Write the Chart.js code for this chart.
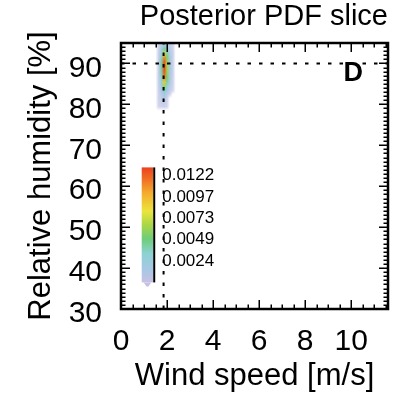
<!DOCTYPE html>
<html>
<head>
<meta charset="utf-8">
<script src="https://cdn.jsdelivr.net/npm/chart.js@4/dist/chart.umd.min.js"></script>
<style>
  html, body { margin: 0; padding: 0; background: #fff; }
  #wrap { width: 416px; height: 395px; position: relative; }
</style>
</head>
<body>
<div id="wrap"><canvas id="c" width="416" height="395"></canvas></div>
<script>
// ---- data ----
const xLimits = [0, 11.6];
const yLimits = [30, 95];
const xTickStep = 2;
const yTickStep = 10;
const trueWind = 1.85;
const trueHumidity = 90;
const panelLabel = 'D';

// PDF grid: column centres (wind speed, m/s) and row centres (RH, %)
const pdfWind = [1.5, 1.625, 1.75, 1.875, 2.0, 2.125, 2.25, 2.375];
const pdfHumidity = [94.5, 93.5, 92.5, 91.5, 90.5, 89.5, 88.5, 87.5, 86.5, 85.5, 84.5, 83.5, 82.5, 81.5, 80.5, 79.5, 78.5];
const pdfValues = [
  [0, 0.0004, 0.0010, 0.0025, 0.0015, 0.0008, 0.0004, 0],
  [0, 0.0005, 0.0015, 0.0045, 0.0025, 0.0010, 0.0005, 0],
  [0, 0.0006, 0.0025, 0.0075, 0.0040, 0.0012, 0.0006, 0],
  [0, 0.0006, 0.0035, 0.0110, 0.0055, 0.0014, 0.0006, 0],
  [0, 0.0007, 0.0040, 0.0125, 0.0062, 0.0015, 0.0006, 0],
  [0, 0.0007, 0.0042, 0.0130, 0.0065, 0.0015, 0.0006, 0],
  [0, 0.0007, 0.0040, 0.0128, 0.0062, 0.0015, 0.0006, 0],
  [0, 0.0007, 0.0038, 0.0122, 0.0058, 0.0014, 0.0006, 0],
  [0, 0.0007, 0.0034, 0.0112, 0.0052, 0.0013, 0.0005, 0],
  [0, 0.0006, 0.0028, 0.0090, 0.0042, 0.0012, 0.0005, 0],
  [0, 0.0006, 0.0020, 0.0062, 0.0030, 0.0010, 0.0004, 0],
  [0, 0.0005, 0.0015, 0.0035, 0.0018, 0.0008, 0.0003, 0],
  [0, 0.0005, 0.0011, 0.0020, 0.0010, 0.0004, 0, 0],
  [0, 0.0004, 0.0009, 0.0013, 0.0006, 0, 0, 0],
  [0, 0.0004, 0.0007, 0.0009, 0.0004, 0, 0, 0],
  [0, 0.0003, 0.0005, 0.0006, 0.0002, 0, 0, 0],
  [0, 0, 0, 0, 0, 0, 0, 0]
];
const pdfMax = 0.0131;
const colorbarTicks = [0.0122, 0.0097, 0.0073, 0.0049, 0.0024];
// colour bar placement in data units (wind, RH)
const colorbarWind = [0.9, 1.4];
const colorbarHumidity = [36.5, 64.6];

// colour map stops [fraction, r, g, b]
const cmapStops = [
  [0.00, 200, 192, 228],
  [0.12, 165, 200, 228],
  [0.25, 140, 210, 210],
  [0.38, 110, 205, 120],
  [0.50, 170, 215, 70],
  [0.62, 235, 228, 60],
  [0.78, 245, 170, 45],
  [0.90, 240, 110, 35],
  [1.00, 235, 65, 30]
];

function cmap(f) {
  f = Math.max(0, Math.min(1, f));
  for (let i = 1; i < cmapStops.length; i++) {
    const a = cmapStops[i - 1], b = cmapStops[i];
    if (f <= b[0]) {
      const t = (f - a[0]) / (b[0] - a[0]);
      return [0, 1, 2].map(k => Math.round(a[k + 1] + (b[k + 1] - a[k + 1]) * t));
    }
  }
  const l = cmapStops[cmapStops.length - 1];
  return [l[1], l[2], l[3]];
}

const FONT = "'Liberation Sans', Arial, Helvetica, sans-serif";

const heatmapPlugin = {
  id: 'heatmap',
  beforeDatasetsDraw(chart) {
    const {ctx, chartArea, scales: {x, y}} = chart;
    const nc = pdfWind.length, nr = pdfHumidity.length;
    const off = document.createElement('canvas');
    off.width = nc; off.height = nr;
    const octx = off.getContext('2d');
    const img = octx.createImageData(nc, nr);
    for (let r = 0; r < nr; r++) {
      for (let c = 0; c < nc; c++) {
        const v = pdfValues[r][c];
        const i = (r * nc + c) * 4;
        if (v > 0) {
          const col = cmap(v / pdfMax);
          img.data[i] = col[0]; img.data[i + 1] = col[1]; img.data[i + 2] = col[2];
          img.data[i + 3] = Math.round(255 * (0.6 + 0.4 * Math.min(1, v / 0.0015)));
        } else {
          img.data[i + 3] = 0;
        }
      }
    }
    octx.putImageData(img, 0, 0);
    const dx = pdfWind[1] - pdfWind[0];
    const dy = pdfHumidity[0] - pdfHumidity[1];
    const x0 = x.getPixelForValue(pdfWind[0] - dx / 2);
    const x1 = x.getPixelForValue(pdfWind[nc - 1] + dx / 2);
    const y0 = y.getPixelForValue(pdfHumidity[0] + dy / 2);
    const y1 = y.getPixelForValue(pdfHumidity[nr - 1] - dy / 2);
    ctx.save();
    ctx.beginPath();
    ctx.rect(chartArea.left, chartArea.top, chartArea.right - chartArea.left, chartArea.bottom - chartArea.top);
    ctx.clip();
    ctx.imageSmoothingEnabled = true;
    ctx.drawImage(off, x0, y0, x1 - x0, y1 - y0);
    ctx.restore();
  }
};

const framePlugin = {
  id: 'frame',
  afterDraw(chart) {
    const {ctx, chartArea: a, scales: {x, y}} = chart;
    ctx.save();
    ctx.strokeStyle = '#000';
    ctx.lineWidth = 1.5;
    ctx.beginPath();
    // x ticks (minor every 0.5, major every 2)
    for (let v = xLimits[0]; v <= xLimits[1] + 1e-9; v += 0.5) {
      const px = Math.round(x.getPixelForValue(v)) + 0.25;
      const major = Math.abs(v / xTickStep - Math.round(v / xTickStep)) < 1e-6;
      const len = major ? 9 : 4.5;
      ctx.moveTo(px, a.bottom); ctx.lineTo(px, a.bottom - len);
      ctx.moveTo(px, a.top); ctx.lineTo(px, a.top + len);
    }
    // y ticks (minor every 1, major every 10)
    for (let v = yLimits[0]; v <= yLimits[1] + 1e-9; v += 1) {
      const py = Math.round(y.getPixelForValue(v)) + 0.25;
      const major = (v % yTickStep) === 0;
      const len = major ? 9 : 4.5;
      ctx.moveTo(a.left, py); ctx.lineTo(a.left + len, py);
      ctx.moveTo(a.right, py); ctx.lineTo(a.right - len, py);
    }
    ctx.stroke();
    ctx.lineWidth = 2.5;
    ctx.strokeRect(a.left, a.top, a.right - a.left, a.bottom - a.top);

    // panel label
    ctx.fillStyle = '#000';
    ctx.font = 'bold 27px ' + FONT;
    ctx.textAlign = 'right';
    ctx.textBaseline = 'top';
    ctx.fillText(panelLabel, a.right - 25, a.top + 17);

    // colour bar
    const bx0 = x.getPixelForValue(colorbarWind[0]);
    const bx1 = x.getPixelForValue(colorbarWind[1]);
    const by0 = y.getPixelForValue(colorbarHumidity[1]);
    const by1 = y.getPixelForValue(colorbarHumidity[0]);
    const grad = ctx.createLinearGradient(0, by1, 0, by0);
    for (const s of cmapStops) grad.addColorStop(s[0], `rgb(${s[1]},${s[2]},${s[3]})`);
    ctx.fillStyle = grad;
    ctx.fillRect(bx0, by0, bx1 - bx0, by1 - by0);
    // small nub at bottom
    const c0 = cmap(0);
    ctx.fillStyle = `rgb(${c0[0]},${c0[1]},${c0[2]})`;
    ctx.beginPath();
    ctx.moveTo(bx0 + 2, by1);
    ctx.lineTo(bx1 - 2, by1);
    ctx.lineTo((bx0 + bx1) / 2 + 1, by1 + 4);
    ctx.lineTo((bx0 + bx1) / 2 - 1, by1 + 4);
    ctx.closePath();
    ctx.fill();
    ctx.strokeStyle = '#000';
    ctx.lineWidth = 2;
    ctx.beginPath();
    ctx.moveTo(bx1 + 1, by0); ctx.lineTo(bx1 + 1, by1);
    ctx.stroke();

    ctx.fillStyle = '#000';
    ctx.font = '17px ' + FONT;
    ctx.textAlign = 'left';
    ctx.textBaseline = 'middle';
    for (const t of colorbarTicks) {
      const ty = by1 + (by0 - by1) * (t / pdfMax);
      ctx.fillText(t.toFixed(4), bx1 + 9, ty);
    }
    ctx.restore();
  }
};

new Chart(document.getElementById('c'), {
  type: 'scatter',
  data: {
    datasets: [
      {
        type: 'line',
        data: [{x: trueWind, y: yLimits[0]}, {x: trueWind, y: yLimits[1]}],
        borderColor: '#000', borderWidth: 2, borderDash: [3.5, 8], pointRadius: 0, fill: false
      },
      {
        type: 'line',
        data: [{x: xLimits[0], y: trueHumidity}, {x: xLimits[1], y: trueHumidity}],
        borderColor: '#000', borderWidth: 2, borderDash: [3.5, 8], pointRadius: 0, fill: false
      }
    ]
  },
  options: {
    responsive: false,
    animation: false,
    devicePixelRatio: 1,
    layout: { padding: { left: 0, right: 28, top: 0, bottom: 0 } },
    plugins: {
      legend: { display: false },
      tooltip: { enabled: false },
      title: {
        display: true,
        fullSize: false,
        align: 'end',
        text: 'Posterior PDF slice',
        color: '#000',
        font: { family: FONT, size: 29, weight: 'normal' },
        padding: { top: 0, bottom: 8.2 }
      }
    },
    scales: {
      x: {
        type: 'linear',
        min: xLimits[0], max: xLimits[1],
        grid: { display: false, drawTicks: false },
        border: { display: false },
        ticks: {
          stepSize: xTickStep, includeBounds: false, padding: 15,
          color: '#000', font: { family: FONT, size: 30 }, maxRotation: 0
        },
        title: {
          display: true, text: 'Wind speed [m/s]', color: '#000',
          font: { family: FONT, size: 31 }, padding: { top: 0, bottom: 0.4 }
        },
        afterFit(s) { s.height = 86; }
      },
      y: {
        type: 'linear',
        min: yLimits[0], max: yLimits[1],
        grid: { display: false, drawTicks: false },
        border: { display: false },
        ticks: {
          stepSize: yTickStep, includeBounds: false, padding: 19, labelOffset: 5,
          color: '#000', font: { family: FONT, size: 30 }
        },
        title: {
          display: true, text: 'Relative humidity [%]', color: '#000',
          font: { family: FONT, size: 31 }, padding: { top: 22.4, bottom: 0 }
        },
        afterFit(s) { s.width = 121; }
      }
    }
  },
  plugins: [heatmapPlugin, framePlugin]
});
</script>
</body>
</html>
